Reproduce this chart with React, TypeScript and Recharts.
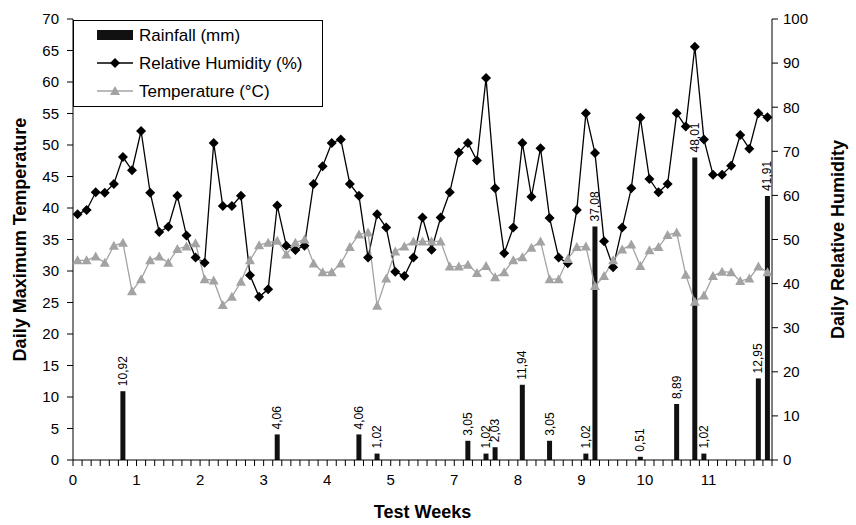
import React from 'react';
import { ComposedChart, Bar, Line, XAxis, YAxis, Legend, LabelList } from 'recharts';

// week labels as printed on the original axis (there is no "6")
const weekLabels = ['0', '1', '2', '3', '4', '5', '7', '8', '9', '10', '11'];

// daily relative humidity (%), right axis
const humidity = [
  55.7, 56.7, 60.7, 60.6, 62.6, 68.7, 65.7, 74.6, 60.6, 51.7, 52.9, 59.9, 50.9, 45.9,
  44.7, 71.9, 57.6, 57.6, 59.9, 41.9, 37.0, 38.7, 57.7, 48.6, 47.6, 48.6, 62.6, 66.6,
  71.9, 72.7, 62.6, 59.9, 45.9, 55.7, 52.7, 42.7, 41.7, 45.9, 55.0, 47.7, 55.0, 60.7,
  69.7, 71.9, 67.9, 86.6, 61.6, 46.9, 52.7, 71.9, 59.7, 70.7, 54.9, 45.9, 44.6, 56.7,
  78.6, 69.6, 49.6, 43.7, 52.7, 61.6, 77.6, 63.7, 60.7, 62.6, 78.6, 75.6, 93.7, 72.7,
  64.7, 64.7, 66.7, 73.7, 70.6, 78.6, 77.7,
];

// daily maximum temperature (°C), left axis
const temperature = [
  31.7, 31.7, 32.3, 31.3, 34.0, 34.5, 26.8, 28.7, 31.7, 32.3, 31.3, 33.5, 33.9, 34.4,
  28.7, 28.5, 24.6, 25.9, 28.3, 31.7, 34.1, 34.5, 34.8, 32.6, 34.5, 35.0, 31.2, 29.8,
  29.8, 31.2, 33.8, 35.8, 36.1, 24.5, 28.8, 33.1, 33.9, 34.7, 34.7, 34.7, 34.7, 30.7,
  30.7, 31.0, 29.7, 30.8, 29.0, 29.8, 31.7, 32.2, 33.7, 34.7, 28.7, 28.7, 31.9, 33.8,
  33.9, 27.6, 29.2, 31.7, 33.4, 34.2, 30.8, 33.3, 33.8, 35.7, 36.1, 29.4, 25.1, 26.1,
  29.2, 29.9, 29.8, 28.4, 28.8, 30.7, 29.8,
];

// rainfall (mm) on the days it rained
const rainDays = [5, 22, 31, 33, 43, 45, 46, 49, 52, 56, 57, 62, 66, 68, 69, 75, 76];
const rainMm = [10.92, 4.06, 4.06, 1.02, 3.05, 1.02, 2.03, 11.94, 3.05, 1.02, 37.08, 0.51, 8.89, 48.01, 1.02, 12.95, 41.91];

const leftTicks = [0, 5, 10, 15, 20, 25, 30, 35, 40, 45, 50, 55, 60, 65, 70];
const rightTicks = [0, 10, 20, 30, 40, 50, 60, 70, 80, 90, 100];
const dayTicks = Array.from({ length: humidity.length + 1 }, (_, i) => i);

const data = humidity.map((h, i) => {
  const r = rainDays.indexOf(i);
  return { x: i + 0.5, hr: h, temp: temperature[i], rain: r >= 0 ? rainMm[r] : null };
});

const FONT = '"Liberation Sans", Arial, Helvetica, sans-serif';
const GREY = '#a3a3a3';

const Diamond = (p: any) => {
  const { cx, cy, index } = p;
  if (cx == null || cy == null) return <g key={`d${index}`} />;
  return (
    <polygon
      key={`d${index}`}
      points={`${cx},${cy - 5} ${cx + 5},${cy} ${cx},${cy + 5} ${cx - 5},${cy}`}
      fill="#000"
    />
  );
};

const Triangle = (p: any) => {
  const { cx, cy, index } = p;
  if (cx == null || cy == null) return <g key={`t${index}`} />;
  return (
    <polygon
      key={`t${index}`}
      points={`${cx},${cy - 5} ${cx + 5},${cy + 4} ${cx - 5},${cy + 4}`}
      fill={GREY}
    />
  );
};

const RainLabel = (p: any) => {
  const { x, y, width, value } = p;
  if (value == null) return null;
  const cx = x + width / 2 + 4;
  const ty = y - 5;
  return (
    <text
      x={cx}
      y={ty}
      transform={`rotate(-90, ${cx}, ${ty})`}
      fontSize={12}
      fontFamily={FONT}
      fill="#000"
      textAnchor="start"
    >
      {value.toFixed(2).replace('.', ',')}
    </text>
  );
};

const LegendBox = () => (
  <svg width={250} height={87} style={{ display: 'block' }}>
    <rect x={0.5} y={0.5} width={249} height={86} fill="#fff" stroke="#000" />
    <rect x={24} y={10} width={36} height={10} fill="#111" />
    <text x={66} y={21} fontSize={17} fontFamily={FONT}>Rainfall (mm)</text>
    <line x1={24} x2={60} y1={43} y2={43} stroke="#000" strokeWidth={1.3} />
    <polygon points="42,38 47,43 42,48 37,43" fill="#000" />
    <text x={66} y={49} fontSize={17} fontFamily={FONT}>Relative Humidity (%)</text>
    <line x1={24} x2={60} y1={71} y2={71} stroke={GREY} strokeWidth={1.3} />
    <polygon points="42,66 47,75 37,75" fill={GREY} />
    <text x={66} y={77} fontSize={17} fontFamily={FONT}>Temperature (°C)</text>
  </svg>
);

const titleStyle = { fontSize: 18, fontWeight: 700, fontFamily: FONT, fill: '#000' };

const LeftTitle = ({ viewBox }: any) => {
  const x = viewBox.x + 20;
  const y = viewBox.y + viewBox.height / 2;
  return (
    <text x={x} y={y} transform={`rotate(-90, ${x}, ${y})`} textAnchor="middle" dominantBaseline="central" {...titleStyle}>
      Daily Maximum Temperature
    </text>
  );
};

const RightTitle = ({ viewBox }: any) => {
  const x = viewBox.x + viewBox.width - 18;
  const y = viewBox.y + viewBox.height / 2;
  return (
    <text x={x} y={y} transform={`rotate(-90, ${x}, ${y})`} textAnchor="middle" dominantBaseline="central" {...titleStyle}>
      Daily Relative Humidity
    </text>
  );
};

const BottomTitle = ({ viewBox }: any) => (
  <text x={viewBox.x + viewBox.width / 2} y={viewBox.y + 58} textAnchor="middle" {...titleStyle}>
    Test Weeks
  </text>
);

const tickStyle = { fill: '#000', fontSize: 15, fontFamily: FONT };

export default function App() {
  return (
    <div style={{ position: 'absolute', left: 0, top: 0, width: 856, height: 525, background: '#fff' }}>
      <ComposedChart width={856} height={525} data={data} margin={{ top: 19, right: 0, bottom: 0, left: 0 }}>
        <XAxis
          type="number"
          dataKey="x"
          domain={[0, humidity.length]}
          ticks={dayTicks}
          interval={0}
          height={65}
          tickSize={6}
          tickMargin={8}
          stroke="#000"
          tick={tickStyle}
          tickFormatter={(d: number) => (d % 7 === 0 && weekLabels[d / 7] !== undefined ? weekLabels[d / 7] : '')}
          label={<BottomTitle />}
        />
        <YAxis
          yAxisId="l"
          domain={[0, 70]}
          ticks={leftTicks}
          interval={0}
          width={73}
          tickSize={6}
          tickMargin={8}
          stroke="#000"
          tick={tickStyle}
          label={<LeftTitle />}
        />
        <YAxis
          yAxisId="r"
          orientation="right"
          domain={[0, 100]}
          ticks={rightTicks}
          interval={0}
          width={84}
          tickSize={6}
          tickMargin={5}
          stroke="#000"
          tick={tickStyle}
          label={<RightTitle />}
        />
        <Legend
          layout="vertical"
          align="center"
          verticalAlign="middle"
          content={() => <LegendBox />}
          wrapperStyle={{ position: 'absolute', left: 73, top: 20, width: 250, height: 87 }}
        />
        <Bar yAxisId="l" dataKey="rain" barSize={5} fill="#111" isAnimationActive={false}>
          <LabelList dataKey="rain" content={<RainLabel />} />
        </Bar>
        <Line
          yAxisId="r"
          dataKey="hr"
          stroke="#000"
          strokeWidth={1.3}
          dot={Diamond}
          activeDot={false}
          isAnimationActive={false}
        />
        <Line
          yAxisId="l"
          dataKey="temp"
          stroke={GREY}
          strokeWidth={1.3}
          dot={Triangle}
          activeDot={false}
          isAnimationActive={false}
        />
      </ComposedChart>
    </div>
  );
}
